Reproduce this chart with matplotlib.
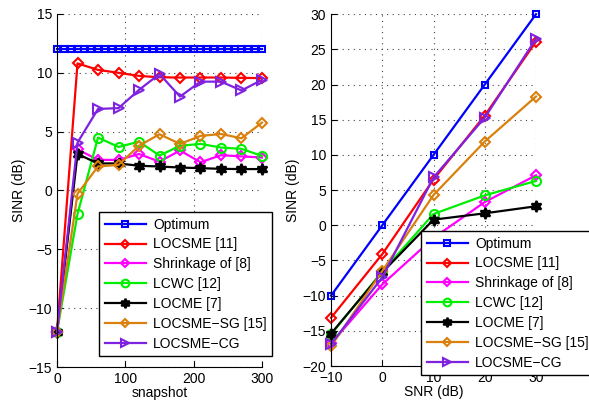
import numpy as np
import matplotlib
matplotlib.use('Agg')
import matplotlib.pyplot as plt

plt.rcParams['font.family'] = ['Liberation Sans', 'DejaVu Sans']
plt.rcParams['font.size'] = 10

# left panel: SINR vs snapshots
snap = [0, 30, 60, 90, 120, 150, 180, 210, 240, 270, 300]
snap_opt = list(range(0, 301, 10))
opt_snap = [12.0, 12.0, 12.0, 12.0, 12.0, 12.0, 12.0, 12.0, 12.0, 12.0, 12.0,
            12.0, 12.0, 12.0, 12.0, 12.0, 12.0, 12.0, 12.0, 12.0, 12.0,
            12.0, 12.0, 12.0, 12.0, 12.0, 12.0, 12.0, 12.0, 12.0, 12.0]
locsme_snap = [-12.0, 10.8, 10.25, 10.0, 9.74, 9.62, 9.6, 9.6, 9.6, 9.57, 9.55]
shrink_snap = [-12.0, 3.5, 2.6, 2.6, 3.1, 2.45, 3.4, 2.4, 3.0, 2.9, 2.8]
lcwc_snap = [-12.0, -2.0, 4.5, 3.7, 4.15, 2.97, 3.8, 3.96, 3.65, 3.54, 2.94]
locme_snap = [-12.0, 3.1, 2.3, 2.3, 2.1, 2.04, 1.95, 1.9, 1.84, 1.82, 1.82]
sg_snap = [-12.0, -0.28, 2.04, 2.18, 3.8, 4.78, 3.96, 4.64, 4.8, 4.44, 5.77]
cg_snap = [-12.0, 4.07, 6.93, 7.0, 8.55, 9.9, 7.98, 9.25, 9.25, 8.5, 9.4]

# right panel: SINR vs SNR
snr = [-10, 0, 10, 20, 30]
opt_snr = [-10.0, 0.0, 10.0, 20.0, 30.0]
locsme_snr = [-13.15, -4.1, 6.5, 15.6, 26.1]
shrink_snr = [-16.8, -8.4, -1.8, 3.3, 7.1]
lcwc_snr = [-15.5, -6.6, 1.6, 4.25, 6.3]
locme_snr = [-15.4, -6.7, 0.8, 1.7, 2.7]
sg_snr = [-17.2, -6.5, 4.3, 11.9, 18.3]
cg_snr = [-16.9, -7.4, 6.8, 15.3, 26.5]

labels = ['Optimum', 'LOCSME [11]', 'Shrinkage of [8]', 'LCWC [12]',
          'LOCME [7]', 'LOCSME\u2212SG [15]', 'LOCSME\u2212CG']
colors = ['#0000ff', '#ff0000', '#ff00ff', '#00ee00', '#000000', '#d9800d', '#7f22e0']
markers = ['s', 'D', 'D', 'o', (6, 1, 0), 'D', '>']
msizes = [5, 5, 5, 6.5, 8, 5, 7.5]
faces = ['none', 'none', 'none', 'none', '#000000', 'none', 'none']

fig = plt.figure(figsize=(5.89, 4.03), dpi=100)
ax1 = fig.add_axes([0.0968, 0.0893, 0.348, 0.876])
ax2 = fig.add_axes([0.562, 0.0918, 0.348, 0.873])

left_series = [(snap_opt, opt_snap), (snap, locsme_snap), (snap, shrink_snap),
               (snap, lcwc_snap), (snap, locme_snap), (snap, sg_snap), (snap, cg_snap)]
right_series = [opt_snr, locsme_snr, shrink_snr, lcwc_snr, locme_snr, sg_snr, cg_snr]

for (xs, ys), lab, c, m, ms, fc in zip(left_series, labels, colors, markers, msizes, faces):
    ax1.plot(xs, ys, color=c, lw=1.6, marker=m, ms=ms, mfc=fc, mec=c,
             mew=1.5, label=lab, clip_on=False)
for ys, lab, c, m, ms, fc in zip(right_series, labels, colors, markers, msizes, faces):
    ax2.plot(snr, ys, color=c, lw=1.6, marker=m, ms=ms, mfc=fc, mec=c,
             mew=1.5, label=lab, clip_on=False)

ax1.set_xlim(0, 300)
ax1.set_ylim(-15, 15)
ax1.set_xticks([0, 100, 200, 300])
ax1.set_yticks([-15, -10, -5, 0, 5, 10, 15])
ax1.set_xlabel('snapshot', labelpad=0)
ax1.set_ylabel('SINR (dB)', labelpad=2)

ax2.set_xlim(-10, 30)
ax2.set_ylim(-20, 30)
ax2.set_xticks([-10, 0, 10, 20, 30])
ax2.set_yticks(list(range(-20, 31, 5)))
ax2.set_xlabel('SNR (dB)', labelpad=0)
ax2.set_ylabel('SINR (dB)', labelpad=2)

for ax in (ax1, ax2):
    ax.spines['top'].set_visible(False)
    ax.spines['right'].set_visible(False)
    ax.grid(True, linestyle=(0, (1, 4)), color='#444444', lw=0.8)
    ax.tick_params(direction='in', length=4, labelsize=10)
    ax.set_axisbelow(True)

leg_kw = dict(loc='upper left', bbox_transform=fig.transFigure, fancybox=False,
              edgecolor='black', framealpha=1, fontsize=10, handlelength=3.0,
              labelspacing=0.42, borderpad=0.4, handletextpad=0.5, borderaxespad=0,
              markerscale=0.85)
l1 = ax1.legend(bbox_to_anchor=(99 / 589, 1 - 212 / 403), **leg_kw)
l2 = ax2.legend(bbox_to_anchor=(421 / 589, 1 - 231 / 403), **leg_kw)
for lg in (l1, l2):
    lg.get_frame().set_linewidth(1.0)
    lg.set_zorder(10)

fig.savefig('out.png', dpi=100)
